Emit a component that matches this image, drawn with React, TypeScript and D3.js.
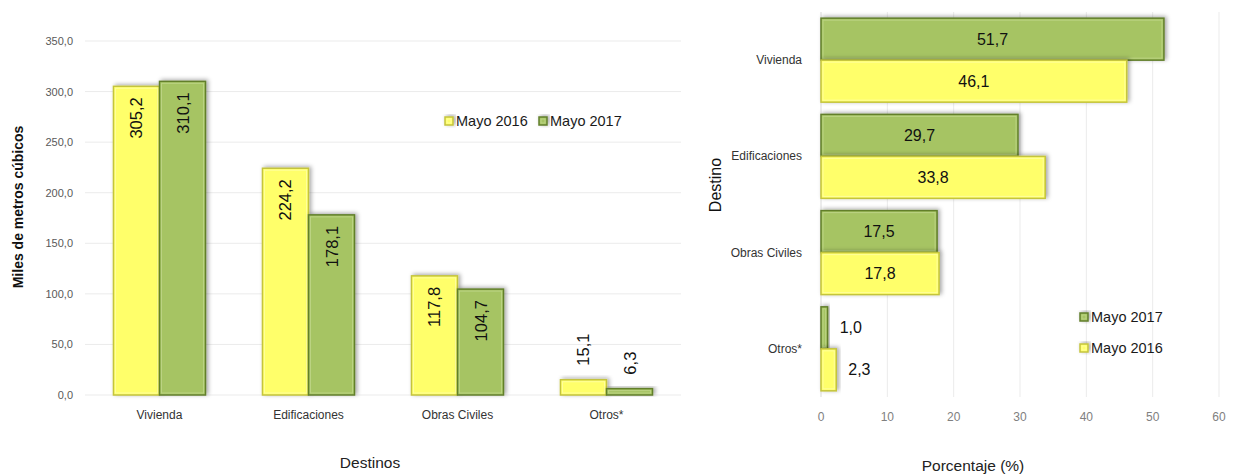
import React from 'react';
import * as d3 from 'd3';

// datos del gráfico
const categories = ['Vivienda', 'Edificaciones', 'Obras Civiles', 'Otros*'];
const series = ['Mayo 2016', 'Mayo 2017'];
const volumen2016 = [305.2, 224.2, 117.8, 15.1];
const volumen2017 = [310.1, 178.1, 104.7, 6.3];
const pct2016 = [46.1, 33.8, 17.8, 2.3];
const pct2017 = [51.7, 29.7, 17.5, 1.0];
const leftTicks = [0, 50, 100, 150, 200, 250, 300, 350];
const rightTicks = [0, 10, 20, 30, 40, 50, 60];

const FONT = '"Liberation Sans", Arial, sans-serif';
const colors: Record<string, { fill: string; stroke: string; light: string }> = {
  'Mayo 2016': { fill: '#ffff6b', stroke: '#c4c43c', light: '#ffffb0' },
  'Mayo 2017': { fill: '#a6c463', stroke: '#627f2c', light: '#c4da92' },
};

const fmt = (v: number) => d3.format('.1f')(v).replace('.', ',');

const Bar = ({ x, y, w, h, s }: { x: number; y: number; w: number; h: number; s: string }) => {
  const c = colors[s];
  return (
    <g>
      <rect x={x} y={y} width={w} height={h} fill={c.fill} stroke={c.stroke} strokeWidth={1.5} filter="url(#shadow)" />
      {w > 5 && h > 5 && (
        <rect x={x + 2} y={y + 2} width={w - 4} height={h - 4} fill="none" stroke={c.light} strokeWidth={1} opacity={0.7} />
      )}
    </g>
  );
};

const LegendItem = ({ x, y, s }: { x: number; y: number; s: string }) => (
  <g>
    <Bar x={x} y={y - 4} w={8} h={8} s={s} />
    <text x={x + 11} y={y} dominantBaseline="central" fontSize={14.5} fill="#1a1a1a">{s}</text>
  </g>
);

const App = () => {
  // ---- gráfico izquierdo (columnas) ----
  const y = d3.scaleLinear().domain([0, 350]).range([395, 41]);
  const x0 = d3.scaleBand().domain(categories).range([85, 681]).paddingInner(0.382).paddingOuter(0.191);
  const x1 = d3.scaleBand().domain(series).range([0, x0.bandwidth()]);
  const leftData = series.map((s, si) => ({ s, values: si === 0 ? volumen2016 : volumen2017 }));

  // ---- gráfico derecho (barras) ----
  const rx = d3.scaleLinear().domain([0, 60]).range([821, 1219]);
  const ry = d3.scaleBand().domain(categories).range([12, 397]).paddingInner(0.127).paddingOuter(0.064);
  const rSeries = ['Mayo 2017', 'Mayo 2016'];
  const ry1 = d3.scaleBand().domain(rSeries).range([0, ry.bandwidth()]);
  const rightData = rSeries.map(s => ({ s, values: s === 'Mayo 2016' ? pct2016 : pct2017 }));

  return (
    <svg width={1233} height={474} style={{ position: 'absolute', left: 0, top: 0, background: '#fff' }} fontFamily={FONT}>
      <defs>
        <filter id="shadow" x="-30%" y="-30%" width="160%" height="160%">
          <feDropShadow dx={2} dy={-1} stdDeviation={2} floodColor="#000" floodOpacity={0.35} />
        </filter>
      </defs>

      {/* izquierda */}
      <g>
        {leftTicks.map(t => (
          <g key={t}>
            <line x1={85} x2={681} y1={y(t)} y2={y(t)} stroke="#ebebeb" />
            <text x={73} y={y(t)} textAnchor="end" dominantBaseline="central" fontSize={11} fill="#595959">{fmt(t)}</text>
          </g>
        ))}
        {leftData.map(d => d.values.map((v, i) => {
          const bx = x0(categories[i])! + x1(d.s)!;
          const bw = x1.bandwidth();
          const top = y(v);
          const inside = y(0) - top > 60;
          const cx = bx + bw / 2;
          return (
            <g key={d.s + i}>
              <Bar x={bx} y={top} w={bw} h={y(0) - top} s={d.s} />
              <text
                transform={`translate(${cx},${inside ? top + 11 : top - 14}) rotate(-90)`}
                textAnchor={inside ? 'end' : 'start'}
                dominantBaseline="central"
                fontSize={16.5}
                fill="#111"
              >{fmt(v)}</text>
            </g>
          );
        }))}
        {categories.map(c => (
          <text key={c} x={x0(c)! + x0.bandwidth() / 2} y={415} textAnchor="middle" dominantBaseline="central" fontSize={12} fill="#333">{c}</text>
        ))}
        <text x={370} y={462} textAnchor="middle" dominantBaseline="central" fontSize={15.5} fill="#222">Destinos</text>
        <text transform="translate(18,207) rotate(-90)" textAnchor="middle" dominantBaseline="central" fontSize={14} fontWeight={600} fill="#111">Miles de metros cúbicos</text>
        <LegendItem x={445} y={121} s="Mayo 2016" />
        <LegendItem x={539} y={121} s="Mayo 2017" />
      </g>

      {/* derecha */}
      <g>
        {rightTicks.map(t => (
          <g key={t}>
            <line x1={rx(t)} x2={rx(t)} y1={12} y2={397} stroke={t === 0 ? '#d9d9d9' : '#ebebeb'} />
            <text x={rx(t)} y={417} textAnchor="middle" dominantBaseline="central" fontSize={12} fill="#808080">{t}</text>
          </g>
        ))}
        {rightData.map(d => d.values.map((v, i) => {
          const by = ry(categories[i])! + ry1(d.s)!;
          const bh = ry1.bandwidth();
          const w = rx(v) - rx(0);
          const inside = w > 40;
          return (
            <g key={d.s + i}>
              <Bar x={rx(0)} y={by} w={w} h={bh} s={d.s} />
              <text
                x={inside ? rx(0) + w / 2 : rx(v) + 12}
                y={by + bh / 2}
                textAnchor={inside ? 'middle' : 'start'}
                dominantBaseline="central"
                fontSize={16}
                fill="#111"
              >{fmt(v)}</text>
            </g>
          );
        }))}
        {categories.map(c => (
          <text key={c} x={802} y={ry(c)! + ry.bandwidth() / 2} textAnchor="end" dominantBaseline="central" fontSize={12} fill="#333">{c}</text>
        ))}
        <text x={973} y={465} textAnchor="middle" dominantBaseline="central" fontSize={15.5} fill="#222">Porcentaje (%)</text>
        <text transform="translate(715,185) rotate(-90)" textAnchor="middle" dominantBaseline="central" fontSize={16} fill="#111">Destino</text>
        <LegendItem x={1080} y={317} s="Mayo 2017" />
        <LegendItem x={1080} y={348} s="Mayo 2016" />
      </g>
    </svg>
  );
};

export default App;
